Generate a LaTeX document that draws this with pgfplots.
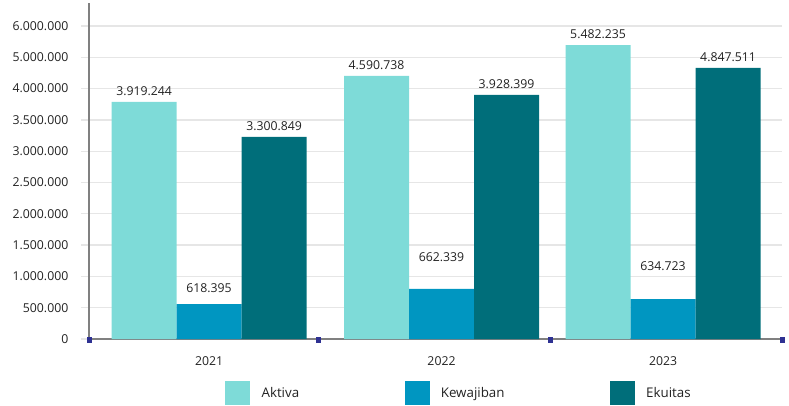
\documentclass[border=0pt]{standalone}
\usepackage{fontspec}
\setmainfont{Open Sans}
\usepackage{pgfplots}
\pgfplotsset{compat=1.18}
\definecolor{cAkt}{HTML}{7EDBD8}
\definecolor{cKew}{HTML}{0096C1}
\definecolor{cEku}{HTML}{006E7A}
\definecolor{cGrid}{HTML}{E6E6E6}
\definecolor{cAxis}{HTML}{808080}
\definecolor{cTxt}{HTML}{222222}
\definecolor{cMark}{HTML}{2E3192}
\begin{document}
\begin{tikzpicture}
\begin{axis}[
  scale only axis,
  width=519.75pt, height=252pt,
  xmin=-0.529, xmax=2.524,
  ymin=0, ymax=5367000,
  clip=false,
  axis lines=left,
  axis line style={cAxis, line width=2.2pt, -},
  xtick={0,1.024,2},
  xticklabels={2021,2022,2023},
  ytick={0,500000,1000000,1500000,2000000,2500000,3000000,3500000,4000000,4500000,5000000},
  yticklabels={0,500.000,1.000.000,1.500.000,2.000.000,2.500.000,3.000.000,3.500.000,4.000.000,5.000.000,6.000.000},
  scaled y ticks=false,
  /pgf/number format/assume math mode=true,
  ymajorgrids,
  grid style={cGrid, line width=1pt},
  tick align=outside,
  major tick length=6pt,
  y tick style={cGrid, line width=1pt},
  x tick style={draw=none},
  tick label style={font=\fontsize{9.2}{11}\selectfont, text=cTxt},
  yticklabel style={xshift=-6pt},
  xticklabel style={yshift=-4pt},
  every node near coord/.append style={font=\fontsize{9.2}{11}\selectfont, text=cTxt, yshift=1pt},
  legend style={at={(0.1962,-0.1607)}, anchor=west, draw=none, fill=none, inner sep=0pt,
    font=\fontsize{10}{12}\selectfont, text=cTxt,
    /tikz/every odd column/.append style={column sep=6.5pt},
    /tikz/every even column/.append style={column sep=77pt}},
  legend columns=3,
  legend image code/.code={\fill[#1] (0pt,-9pt) rectangle (18.75pt,9pt);},
]
\addplot[ybar, bar width=48.75pt, bar shift=-48.75pt, fill=cAkt, draw=none,
  nodes near coords, point meta=explicit symbolic,
  every node near coord/.append style={xshift=-48.75pt}]
  coordinates {(0,3786000)[3.919.244] (1.024,4201000)[4.590.738] (2,4696000)[5.482.235]};
\addlegendentry{Aktiva}
\addplot[ybar, bar width=48.75pt, bar shift=0pt, fill=cKew, draw=none]
  coordinates {(0,559000) (1.024,799000) (2,639000)};
\addlegendentry{Kewajiban\hspace{11.25pt}}
\addplot[ybar, bar width=48.75pt, bar shift=48.75pt, fill=cEku, draw=none,
  nodes near coords, point meta=explicit symbolic,
  every node near coord/.append style={xshift=48.75pt}]
  coordinates {(0,3227000)[3.300.849] (1.024,3898000)[3.928.399] (2,4329000)[4.847.511]};
\addlegendentry{Ekuitas}
% labels of Kewajiban, placed where the reference sets them
\addplot[draw=none, mark=none, forget plot, nodes near coords, point meta=explicit symbolic]
  coordinates {(0,639000)[618.395] (1.024,1134000)[662.339] (2,990000)[634.723]};
% category boundary markers on the x axis
\addplot[only marks, mark=square*, mark size=1.6pt, cMark, forget plot]
  coordinates {(-0.529,-12000) (0.480,-12000) (1.502,-12000) (2.524,-12000)};
\end{axis}
\pgfresetboundingbox
\path ([xshift=-66.75pt,yshift=-49.5pt]current axis.south west) rectangle ([xshift=525pt,yshift=254.25pt]current axis.south west);
\end{tikzpicture}
\end{document}
